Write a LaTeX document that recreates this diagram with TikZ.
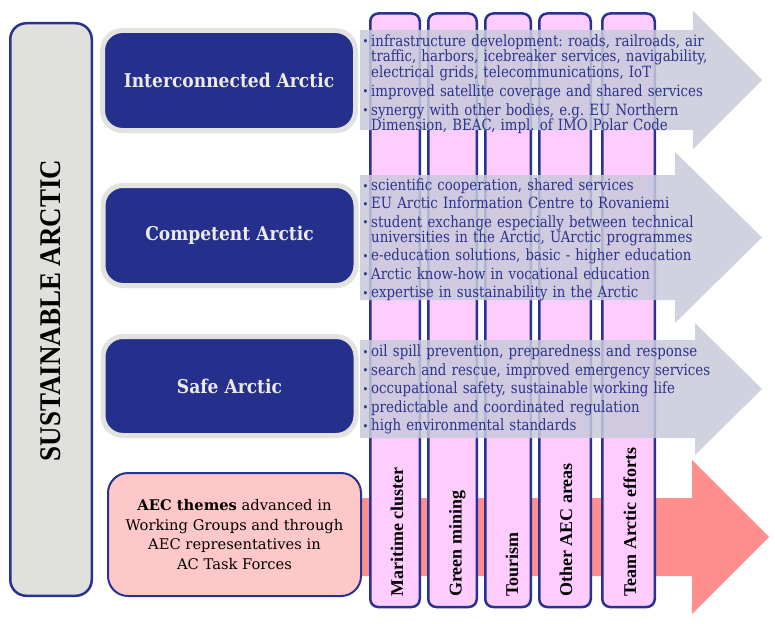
\documentclass[tikz,border=0pt]{standalone}
\usepackage{fontspec}
\setmainfont{DejaVu Serif}
\newfontfamily\bulfont[FakeStretch=0.86]{DejaVu Serif}
\newfontfamily\headfont[FakeStretch=0.9]{DejaVu Serif Bold}
\newfontfamily\timesfont{Liberation Serif}
\usetikzlibrary{shadows}
\definecolor{navy}{RGB}{37,47,140}
\definecolor{bord}{RGB}{40,50,145}
\definecolor{sidegray}{RGB}{224,224,220}
\definecolor{ringgray}{RGB}{226,226,222}
\definecolor{headwhite}{RGB}{235,235,228}
\definecolor{colpink}{RGB}{255,204,255}
\definecolor{aecpink}{RGB}{255,200,200}
\definecolor{arrpink}{RGB}{255,143,143}
\definecolor{arrgray}{RGB}{200,202,219}
\definecolor{bultext}{RGB}{45,50,140}
\newcommand\bitem[1]{\par\hangindent=9pt\hangafter=1\noindent\makebox[9pt][l]{\hspace{0.5pt}\raisebox{0.3pt}{\fontsize{11.5}{11.5}\selectfont •}}#1\par}
\tikzset{
  sidebar/.style={draw=bord, line width=2.5pt, fill=sidegray, rounded corners=16pt,
    minimum width=81.5pt, minimum height=572.5pt, inner sep=0pt},
  sidelabel/.style={rotate=90, inner sep=0pt, font=\timesfont\bfseries\fontsize{30}{32}\selectfont},
  themebox/.style={draw=ringgray, line width=5pt, fill=navy, rounded corners=20pt,
    minimum width=253pt, minimum height=100pt, inner sep=0pt, text=headwhite,
    font=\headfont\fontsize{19}{21}\selectfont,
    drop shadow={opacity=0.25, shadow xshift=1pt, shadow yshift=-2.5pt}},
  colbox/.style={draw=bord, line width=2.5pt, fill=colpink, rounded corners=8pt,
    minimum height=593.5pt, anchor=north, inner sep=0pt},
  collabel/.style={rotate=90, anchor=base west, inner sep=0pt,
    font=\timesfont\bfseries\fontsize{18}{20}\selectfont},
  bullets/.style={anchor=north west, inner sep=0pt, text width=360pt, align=left,
    text=bultext, font=\bulfont\fontsize{15.5}{15.5}\selectfont\frenchspacing},
  garrow/.style={fill=arrgray, fill opacity=0.85},
  aecbox/.style={draw=bord, line width=2pt, fill=aecpink, rounded corners=20pt,
    minimum width=253pt, minimum height=123pt, inner sep=0pt, align=center,
    font=\fontsize{14.7}{19.5}\selectfont}
}
\begin{document}
\begin{tikzpicture}[x=1pt,y=-1pt]
\useasboundingbox (0,0) rectangle (775,623);
% left bar
\node[sidebar] (bar) at (51,309.5) {};
\node[sidelabel] (sust) at (51,310.5) {\scalebox{0.9}[1]{SUSTAINABLE ARCTIC}};
% pink arrow
\fill[arrpink] (330,498) -- (692,498) -- (692,460) -- (769,537) -- (692,614) -- (692,576) -- (330,576) -- cycle;
% AEC box
\node[aecbox] (aec) at (234.5,534.5) {\textbf{AEC themes} advanced in\\Working Groups and through\\AEC representatives in\\AC Task Forces};
% columns
\node[colbox, minimum width=49.5pt] (c1) at (395,12.25) {};
\node[colbox, minimum width=48.5pt] (c2) at (452.5,12.25) {};
\node[colbox, minimum width=45.5pt] (c3) at (508,12.25) {};
\node[colbox, minimum width=51.5pt] (c4) at (565,12.25) {};
\node[colbox, minimum width=52.5pt] (c5) at (628.5,12.25) {};
\node[collabel] (l1) at (403,597) {Maritime cluster};
\node[collabel] (l2) at (461.5,597) {Green mining};
\node[collabel] (l3) at (518,597) {Tourism};
\node[collabel] (l4) at (572,597) {Other AEC areas};
\node[collabel] (l5) at (636,597) {Team Arctic efforts};
% gray arrows
\fill[garrow] (360,30) -- (693,30) -- (693,11) -- (762,80) -- (693,149) -- (693,130) -- (360,130) -- cycle;
\fill[garrow] (360,175) -- (675,175) -- (675,152) -- (762,237.5) -- (675,323) -- (675,300) -- (360,300) -- cycle;
\fill[garrow] (360,340) -- (695,340) -- (695,323) -- (762,389) -- (695,455) -- (695,438) -- (360,438) -- cycle;
% theme boxes
\node[themebox] (t1) at (229,80.5) {Interconnected Arctic};
\node[themebox] (t2) at (229.5,235.5) {Competent Arctic};
\node[themebox, minimum height=99pt] (t3) at (229.5,386) {Safe Arctic};
% bullet texts
\node[bullets] (b1) at (362,27) {\parskip=3.5pt
\bitem{\rule{0pt}{11pt}infrastructure development: roads, railroads, air\newline traffic, harbors, icebreaker services, navigability,\newline electrical grids, telecommunications, IoT}
\bitem{improved satellite coverage and shared services}
\bitem{synergy with other bodies, e.g. EU Northern\newline Dimension, BEAC, impl. of IMO Polar Code}};
\node[bullets] (b2) at (362,172) {\parskip=2.8pt
\bitem{\rule{0pt}{11pt}scientific cooperation, shared services}
\bitem{EU Arctic Information Centre to Rovaniemi}
\bitem{student exchange especially between technical\newline universities in the Arctic, UArctic programmes}
\bitem{e-education solutions, basic - higher education}
\bitem{Arctic know-how in vocational education}
\bitem{expertise in sustainability in the Arctic}};
\node[bullets] (b3) at (362,338) {\parskip=3pt
\bitem{\rule{0pt}{11pt}oil spill prevention, preparedness and response}
\bitem{search and rescue, improved emergency services}
\bitem{occupational safety, sustainable working life}
\bitem{predictable and coordinated regulation}
\bitem{high environmental standards}};
\end{tikzpicture}
\end{document}
